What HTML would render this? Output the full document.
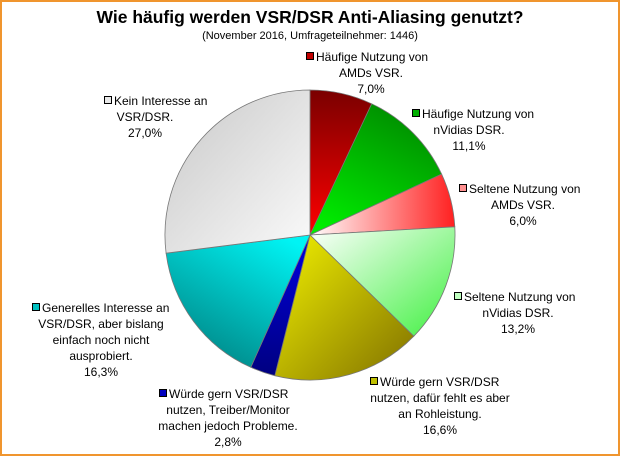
<!DOCTYPE html>
<html><head><meta charset="utf-8"><style>
html,body{margin:0;padding:0;background:#fff}
svg{display:block;font-family:"Liberation Sans",Arial,sans-serif}
</style></head><body>
<svg width="620" height="456" viewBox="0 0 620 456" xmlns="http://www.w3.org/2000/svg">
<defs>
<linearGradient id="gR" x1="0" y1="0" x2="0" y2="1"><stop offset="0" stop-color="#7a0000"/><stop offset="1" stop-color="#ff0000"/></linearGradient>
<linearGradient id="gG" x1="0.7" y1="0" x2="0.2" y2="1"><stop offset="0" stop-color="#008a00"/><stop offset="1" stop-color="#00ee00"/></linearGradient>
<linearGradient id="gP" x1="0" y1="0" x2="1" y2="0"><stop offset="0" stop-color="#ffffff"/><stop offset="1" stop-color="#ff2020"/></linearGradient>
<linearGradient id="gL" x1="0" y1="0" x2="1" y2="1"><stop offset="0" stop-color="#ffffff"/><stop offset="1" stop-color="#40f040"/></linearGradient>
<linearGradient id="gY" x1="0" y1="0" x2="1" y2="1"><stop offset="0" stop-color="#f2f200"/><stop offset="1" stop-color="#807000"/></linearGradient>
<linearGradient id="gB" x1="0" y1="0" x2="0" y2="1"><stop offset="0" stop-color="#0000e0"/><stop offset="1" stop-color="#000080"/></linearGradient>
<linearGradient id="gC" x1="0.8" y1="0" x2="0.2" y2="1"><stop offset="0" stop-color="#00f4f4"/><stop offset="1" stop-color="#008080"/></linearGradient>
<linearGradient id="gW" x1="0" y1="0" x2="1" y2="1"><stop offset="0" stop-color="#c8c8c8"/><stop offset="1" stop-color="#fafafa"/></linearGradient>
</defs>
<rect x="1" y="1" width="618" height="454" fill="#fff" stroke="#f0952e" stroke-width="2"/>
<text x="310" y="23" text-anchor="middle" font-size="17.5" font-weight="bold">Wie häufig werden VSR/DSR Anti-Aliasing genutzt?</text>
<text x="310" y="39" text-anchor="middle" font-size="11">(November 2016, Umfrageteilnehmer: 1446)</text>
<g stroke="#777" stroke-width="0.8">
<path d="M310,235 L310,90 A145,145 0 0 1 371.7,103.8 Z" fill="url(#gR)"/>
<path d="M310,235 L371.7,103.8 A145,145 0 0 1 441.6,174.1 Z" fill="url(#gG)"/>
<path d="M310,235 L441.6,174.1 A145,145 0 0 1 454.8,226.8 Z" fill="url(#gP)"/>
<path d="M310,235 L454.8,226.8 A145,145 0 0 1 413.8,336.2 Z" fill="url(#gL)"/>
<path d="M310,235 L413.8,336.2 A145,145 0 0 1 274.8,375.7 Z" fill="url(#gY)"/>
<path d="M310,235 L274.8,375.7 A145,145 0 0 1 250.8,367.3 Z" fill="url(#gB)"/>
<path d="M310,235 L250.8,367.3 A145,145 0 0 1 166.1,253.2 Z" fill="url(#gC)"/>
<path d="M310,235 L166.1,253.2 A145,145 0 0 1 310,90 Z" fill="url(#gW)"/>
</g>
<g stroke="#000" stroke-width="1">
<rect x="306.5" y="52.5" width="7" height="7" fill="#c00000"/>
<rect x="412.5" y="109.5" width="7" height="7" fill="#00b000"/>
<rect x="459.5" y="184.5" width="7" height="7" fill="#ff9090"/>
<rect x="454.5" y="292.5" width="7" height="7" fill="#c0ffc0"/>
<rect x="370.5" y="377.5" width="7" height="7" fill="#c0c000"/>
<rect x="159.5" y="389.5" width="7" height="7" fill="#0000c0"/>
<rect x="32.5" y="303.5" width="7" height="7" fill="#00c0c0"/>
<rect x="104.5" y="96.5" width="7" height="7" fill="#e8e8e8"/>
</g>
<g font-size="12" fill="#000" text-anchor="middle">
<text x="316" y="61" text-anchor="start">Häufige Nutzung von</text><text x="371" y="77">AMDs VSR.</text><text x="371" y="93">7,0%</text>
<text x="422" y="118" text-anchor="start">Häufige Nutzung von</text><text x="469" y="134">nVidias DSR.</text><text x="469" y="150">11,1%</text>
<text x="469" y="193" text-anchor="start">Seltene Nutzung von</text><text x="523" y="209">AMDs VSR.</text><text x="523" y="225">6,0%</text>
<text x="464" y="301" text-anchor="start">Seltene Nutzung von</text><text x="518" y="317">nVidias DSR.</text><text x="518" y="333">13,2%</text>
<text x="380" y="386" text-anchor="start">Würde gern VSR/DSR</text><text x="440" y="402">nutzen, dafür fehlt es aber</text><text x="440" y="418">an Rohleistung.</text><text x="440" y="434">16,6%</text>
<text x="169" y="398" text-anchor="start">Würde gern VSR/DSR</text><text x="228" y="414">nutzen, Treiber/Monitor</text><text x="228" y="430">machen jedoch Probleme.</text><text x="228" y="446">2,8%</text>
<text x="42" y="312" text-anchor="start">Generelles Interesse an</text><text x="101" y="328">VSR/DSR, aber bislang</text><text x="101" y="344">einfach noch nicht</text><text x="101" y="360">ausprobiert.</text><text x="101" y="376">16,3%</text>
<text x="114" y="105" text-anchor="start">Kein Interesse an</text><text x="145" y="121">VSR/DSR.</text><text x="145" y="137">27,0%</text>
</g>
</svg>
</body></html>
